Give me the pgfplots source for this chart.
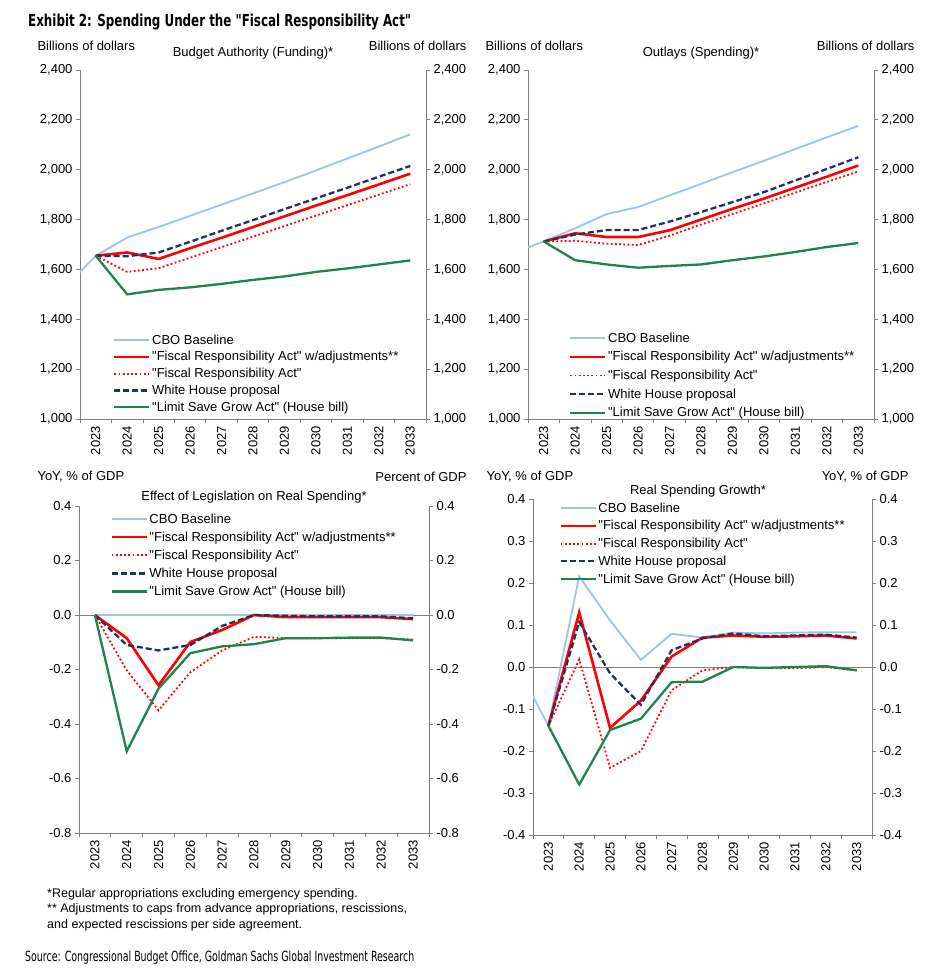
\documentclass[border=0pt]{standalone}
\usepackage{fontspec}
\setmainfont{Liberation Sans}[Ligatures=TeXOff]
\newfontfamily\gsfont{DejaVu Sans Condensed}
\usepackage{pgfplots}
\pgfplotsset{compat=1.18}

\definecolor{cbo}{RGB}{157,195,230}
\definecolor{fra}{RGB}{255,0,0}
\definecolor{wh}{RGB}{31,50,96}
\definecolor{lsg}{RGB}{30,132,73}
\definecolor{axgray}{RGB}{128,128,128}

\pgfplotsset{
  cbo/.style={color=cbo, line width=1.8pt},
  fra/.style={color=fra, line width=2.6pt},
  frad/.style={color=fra, line width=1.8pt, dash pattern=on 1.8pt off 2.4pt},
  whp/.style={color=wh, line width=2.3pt, dash pattern=on 6pt off 3pt},
  lsg/.style={color=lsg, line width=2.3pt},
  panel/.style={
    scale only axis, anchor=south west,
    width=346pt, height=349pt,
    xmin=-0.5, xmax=10.5,
    axis line style={axgray, line width=0.8pt, -},
    axis x line*=bottom, axis y line*=left,
    tick align=outside,
    major tick length=4pt, minor tick length=4pt,
    every tick/.style={axgray, line width=0.8pt},
    xtick={0,...,10},
    xticklabels={2023,2024,2025,2026,2027,2028,2029,2030,2031,2032,2033},
    major x tick style={draw=none},
    minor xtick={-0.5,0.5,...,10.5},
    x tick label style={rotate=90, anchor=east, font=\fontsize{13}{13}\selectfont, inner sep=3pt},
    y tick label style={font=\fontsize{13}{13}\selectfont},
    /pgf/number format/assume math mode=true,
    legend cell align=left,
    legend image code/.code={\draw[##1] (0pt,0pt) -- (35pt,0pt);},
    legend style={draw=none, fill=none, font=\fontsize{13}{13}\selectfont,
      row sep=2.8pt, inner sep=0pt, nodes={inner sep=1.5pt}},
  },
  twin/.style={
    scale only axis, anchor=south west,
    width=346pt, height=349pt,
    xmin=-0.5, xmax=10.5,
    axis line style={axgray, line width=0.8pt, -},
    axis x line=none, axis y line*=right,
    tick align=outside, major tick length=4pt,
    every tick/.style={axgray, line width=0.8pt},
    y tick label style={font=\fontsize{13}{13}\selectfont},
    /pgf/number format/assume math mode=true,
  },
  dollars/.style={
    ymin=1000, ymax=2400, ytick={1000,1200,1400,1600,1800,2000,2200,2400},
    /pgf/number format/.cd, 1000 sep={,},
  },
  pct/.style={
    yticklabel style={/pgf/number format/.cd, fixed, fixed zerofill, precision=1},
  },
}

\begin{document}
\begin{tikzpicture}[every node/.style={font=\fontsize{13}{13}\selectfont}]
\useasboundingbox (0pt,0pt) rectangle (944pt,-978pt);

% titre
\node[anchor=west, inner sep=0pt] at (28pt,-22pt)
  {\scalebox{0.8}[1]{\gsfont\bfseries\fontsize{16.5}{16.5}\selectfont Exhibit 2: Spending Under the "Fiscal Responsibility Act"}};

% ---------- panneau 1 : Budget Authority ----------
\begin{axis}[panel, dollars, at={(80pt,-419pt)},
  legend style={at={(0.095,0.246)}, anchor=north west}]
\addplot[cbo] coordinates {(-1,1525) (0,1655) (1,1728) (2,1770) (3,1815) (4,1860) (5,1905) (6,1950) (7,1997) (8,2045) (9,2093) (10,2142)};
\addlegendentry{CBO Baseline}
\addplot[fra] coordinates {(0,1655) (1,1668) (2,1642) (3,1685) (4,1727) (5,1770) (6,1813) (7,1856) (8,1898) (9,1941) (10,1984)};
\addlegendentry{"Fiscal Responsibility Act" w/adjustments**}
\addplot[frad] coordinates {(0,1655) (1,1590) (2,1605) (3,1647) (4,1689) (5,1731) (6,1774) (7,1816) (8,1858) (9,1900) (10,1942)};
\addlegendentry{"Fiscal Responsibility Act"}
\addplot[whp] coordinates {(0,1655) (1,1653) (2,1668) (3,1711) (4,1755) (5,1798) (6,1842) (7,1885) (8,1928) (9,1972) (10,2015)};
\addlegendentry{White House proposal}
\addplot[lsg] coordinates {(0,1655) (1,1500) (2,1518) (3,1528) (4,1542) (5,1558) (6,1572) (7,1590) (8,1604) (9,1620) (10,1636)};
\addlegendentry{"Limit Save Grow Act" (House bill)}
\end{axis}
\begin{axis}[twin, dollars, at={(80pt,-419pt)}]
\end{axis}
\node[anchor=west] at (34pt,-46pt) {Billions of dollars};
\node[anchor=east] at (470pt,-46pt) {Billions of dollars};
\node at (253pt,-53pt) {Budget Authority (Funding)*};

% ---------- panneau 2 : Outlays ----------
\begin{axis}[panel, dollars, at={(528pt,-419pt)},
  legend style={at={(0.118,0.252)}, anchor=north west, row sep=4.7pt}]
\addplot[cbo] coordinates {(-1,1664) (0,1712) (1,1765) (2,1822) (3,1850) (4,1897) (5,1943) (6,1990) (7,2036) (8,2083) (9,2130) (10,2176)};
\addlegendentry{CBO Baseline}
\addplot[fra] coordinates {(0,1712) (1,1745) (2,1730) (3,1730) (4,1757) (5,1800) (6,1843) (7,1884) (8,1928) (9,1972) (10,2017)};
\addlegendentry{"Fiscal Responsibility Act" w/adjustments**}
\addplot[frad] coordinates {(0,1712) (1,1715) (2,1703) (3,1698) (4,1735) (5,1780) (6,1822) (7,1865) (8,1908) (9,1951) (10,1993)};
\addlegendentry{"Fiscal Responsibility Act"}
\addplot[whp] coordinates {(0,1712) (1,1740) (2,1758) (3,1758) (4,1792) (5,1830) (6,1870) (7,1910) (8,1957) (9,2003) (10,2050)};
\addlegendentry{White House proposal}
\addplot[lsg] coordinates {(0,1712) (1,1637) (2,1620) (3,1607) (4,1614) (5,1620) (6,1637) (7,1652) (8,1670) (9,1690) (10,1706)};
\addlegendentry{"Limit Save Grow Act" (House bill)}
\end{axis}
\begin{axis}[twin, dollars, at={(528pt,-419pt)}]
\end{axis}
\node[anchor=west] at (482pt,-46pt) {Billions of dollars};
\node[anchor=east] at (918pt,-46pt) {Billions of dollars};
\node at (701pt,-53pt) {Outlays (Spending)*};

% ---------- panneau 3 : Effect of legislation ----------
\begin{axis}[panel, pct, at={(79pt,-833pt)}, width=350pt, height=327pt,
  ymin=-0.8, ymax=0.4, ytick={-0.8,-0.6,-0.4,-0.2,0,0.2,0.4},
  extra y ticks={0}, extra y tick labels={},
  extra y tick style={grid=major, major grid style={axgray, line width=0.8pt}, major tick length=0pt},
  legend style={at={(0.089,0.982)}, anchor=north west, row sep=4.2pt}]
\addplot[cbo] coordinates {(0,0) (1,0) (2,0) (3,0) (4,0) (5,0) (6,0) (7,0) (8,0) (9,0) (10,0)};
\addlegendentry{CBO Baseline}
\addplot[fra] coordinates {(0,0) (1,-0.085) (2,-0.258) (3,-0.099) (4,-0.055) (5,0.0) (6,-0.008) (7,-0.008) (8,-0.008) (9,-0.008) (10,-0.015)};
\addlegendentry{"Fiscal Responsibility Act" w/adjustments**}
\addplot[frad] coordinates {(0,0) (1,-0.203) (2,-0.35) (3,-0.21) (4,-0.13) (5,-0.08) (6,-0.085) (7,-0.085) (8,-0.085) (9,-0.085) (10,-0.09)};
\addlegendentry{"Fiscal Responsibility Act"}
\addplot[whp] coordinates {(0,0) (1,-0.11) (2,-0.13) (3,-0.11) (4,-0.04) (5,0.0) (6,-0.003) (7,-0.005) (8,-0.005) (9,-0.005) (10,-0.012)};
\addlegendentry{White House proposal}
\addplot[lsg] coordinates {(0,0) (1,-0.5) (2,-0.27) (3,-0.14) (4,-0.115) (5,-0.107) (6,-0.085) (7,-0.085) (8,-0.083) (9,-0.083) (10,-0.093)};
\addlegendentry{"Limit Save Grow Act" (House bill)}
\end{axis}
\begin{axis}[twin, pct, at={(79pt,-833pt)}, width=350pt, height=327pt,
  ymin=-0.8, ymax=0.4, ytick={-0.8,-0.6,-0.4,-0.2,0,0.2,0.4}]
\end{axis}
\node[anchor=west] at (34pt,-477pt) {YoY, \% of GDP};
\node[anchor=east] at (470pt,-477pt) {Percent of GDP};
\node at (254pt,-497pt) {Effect of Legislation on Real Spending*};

% ---------- panneau 4 : Real spending growth ----------
\begin{axis}[panel, pct, at={(533pt,-835pt)}, width=339pt, height=336pt,
  ymin=-0.4, ymax=0.4, ytick={-0.4,-0.3,-0.2,-0.1,0,0.1,0.2,0.3,0.4},
  extra y ticks={0}, extra y tick labels={},
  extra y tick style={grid=major, major grid style={axgray, line width=0.8pt}, major tick length=0pt},
  legend style={at={(0.077,0.994)}, anchor=north west, row sep=3.8pt}]
\addplot[cbo] coordinates {(-1,0.0) (0,-0.14) (1,0.216) (2,0.111) (3,0.017) (4,0.079) (5,0.07) (6,0.082) (7,0.08) (8,0.082) (9,0.083) (10,0.083)};
\addlegendentry{CBO Baseline}
\addplot[fra] coordinates {(0,-0.14) (1,0.13) (2,-0.145) (3,-0.08) (4,0.025) (5,0.07) (6,0.075) (7,0.072) (8,0.073) (9,0.075) (10,0.068)};
\addlegendentry{"Fiscal Responsibility Act" w/adjustments**}
\addplot[frad] coordinates {(0,-0.14) (1,0.018) (2,-0.24) (3,-0.2) (4,-0.055) (5,-0.008) (6,0.0) (7,-0.003) (8,-0.003) (9,0.0) (10,-0.008)};
\addlegendentry{"Fiscal Responsibility Act"}
\addplot[whp] coordinates {(0,-0.14) (1,0.107) (2,-0.015) (3,-0.09) (4,0.04) (5,0.068) (6,0.08) (7,0.073) (8,0.075) (9,0.077) (10,0.07)};
\addlegendentry{White House proposal}
\addplot[lsg] coordinates {(0,-0.14) (1,-0.28) (2,-0.15) (3,-0.123) (4,-0.036) (5,-0.035) (6,0.0) (7,-0.002) (8,0.0) (9,0.002) (10,-0.008)};
\addlegendentry{"Limit Save Grow Act" (House bill)}
\end{axis}
\begin{axis}[twin, pct, at={(533pt,-835pt)}, width=339pt, height=336pt,
  ymin=-0.4, ymax=0.4, ytick={-0.4,-0.3,-0.2,-0.1,0,0.1,0.2,0.3,0.4}]
\end{axis}
\node[anchor=west] at (483pt,-477pt) {YoY, \% of GDP};
\node[anchor=east] at (912pt,-477pt) {YoY, \% of GDP};
\node at (698pt,-491pt) {Real Spending Growth*};

% ---------- notes ----------
\node[anchor=north west, align=left, inner sep=0pt, font=\fontsize{12.5}{15.5}\selectfont] at (47pt,-888pt)
  {*Regular appropriations excluding emergency spending.\\
   ** Adjustments to caps from advance appropriations, rescissions,\\
   and expected rescissions per side agreement.};
\node[anchor=west, inner sep=0pt] at (25pt,-958pt)
  {\scalebox{0.75}[1]{\gsfont\fontsize{14}{14}\selectfont Source: Congressional Budget Office, Goldman Sachs Global Investment Research}};
\end{tikzpicture}
\end{document}
